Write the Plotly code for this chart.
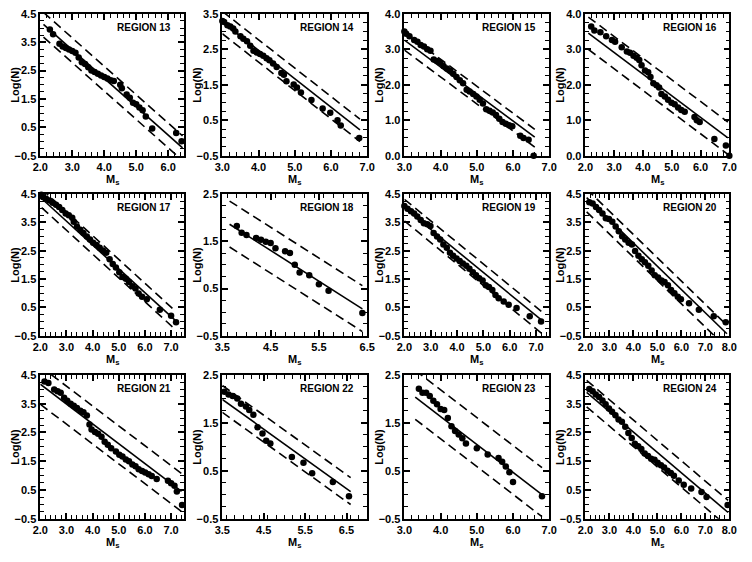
import plotly.graph_objects as go

# ---------------- data ----------------
regions = [13, 14, 15, 16, 17, 18, 19, 20, 21, 22, 23, 24]

m13 = [2.3, 2.4, 2.6, 2.7, 2.8, 2.9, 3.0, 3.1, 3.2, 3.3, 3.4, 3.5, 3.6, 3.7, 3.8, 3.9, 4.0, 4.1, 4.2, 4.3, 4.5, 4.55, 4.7, 4.8, 4.9, 5.0, 5.1, 5.2, 5.3, 5.5, 6.25, 6.42]
n13 = [3.95, 3.78, 3.45, 3.35, 3.3, 3.24, 3.19, 3.13, 2.96, 2.79, 2.73, 2.62, 2.5, 2.45, 2.39, 2.33, 2.27, 2.22, 2.16, 2.13, 2.0, 1.88, 1.66, 1.54, 1.37, 1.31, 1.2, 1.1, 0.88, 0.46, 0.3, 0.01]

m14 = [3.0, 3.05, 3.14, 3.22, 3.3, 3.36, 3.5, 3.58, 3.68, 3.77, 3.86, 3.95, 4.04, 4.13, 4.22, 4.3, 4.4, 4.5, 4.63, 4.7, 4.77, 4.97, 5.06, 5.17, 5.46, 5.77, 5.98, 6.18, 6.27, 6.78]
n14 = [3.3, 3.27, 3.18, 3.14, 3.09, 3.0, 2.87, 2.8, 2.73, 2.6, 2.46, 2.41, 2.37, 2.32, 2.25, 2.19, 2.1, 2.0, 1.83, 1.78, 1.6, 1.51, 1.42, 1.28, 1.07, 0.83, 0.71, 0.5, 0.35, 0.0]

m15 = [3.0, 3.05, 3.14, 3.27, 3.36, 3.45, 3.54, 3.63, 3.72, 3.81, 3.9, 3.99, 4.08, 4.17, 4.26, 4.35, 4.44, 4.53, 4.62, 4.72, 4.8, 4.9, 4.99, 5.08, 5.17, 5.26, 5.35, 5.44, 5.53, 5.62, 5.71, 5.8, 5.89, 5.98, 6.2, 6.29, 6.43, 6.57]
n15 = [3.5, 3.44, 3.37, 3.26, 3.21, 3.12, 3.08, 3.0, 2.96, 2.71, 2.67, 2.62, 2.53, 2.46, 2.4, 2.31, 2.22, 2.13, 2.04, 1.86, 1.81, 1.74, 1.67, 1.58, 1.47, 1.31, 1.27, 1.22, 1.15, 1.04, 0.95, 0.9, 0.86, 0.83, 0.56, 0.5, 0.45, 0.0]

m16 = [2.2, 2.31, 2.52, 2.72, 2.92, 3.03, 3.26, 3.44, 3.55, 3.67, 3.78, 3.87, 3.95, 4.07, 4.18, 4.26, 4.36, 4.47, 4.56, 4.64, 4.76, 4.87, 4.99, 5.1, 5.22, 5.33, 5.45, 5.79, 5.87, 5.97, 6.48, 6.88, 7.0]
n16 = [3.64, 3.53, 3.48, 3.37, 3.26, 3.21, 3.06, 2.94, 2.9, 2.82, 2.76, 2.7, 2.55, 2.4, 2.35, 2.22, 2.04, 1.99, 1.92, 1.74, 1.67, 1.58, 1.49, 1.45, 1.36, 1.29, 1.24, 1.09, 1.0, 0.95, 0.47, 0.29, 0.0]

m17 = [2.04, 2.1, 2.22, 2.35, 2.47, 2.6, 2.72, 2.84, 2.97, 3.09, 3.22, 3.28, 3.4, 3.53, 3.65, 3.78, 3.9, 4.02, 4.15, 4.27, 4.4, 4.52, 4.65, 4.77, 4.89, 5.02, 5.14, 5.27, 5.39, 5.52, 5.64, 5.76, 5.89, 6.07, 6.57, 7.0, 7.19]
n17 = [4.47, 4.39, 4.33, 4.27, 4.19, 4.12, 4.04, 3.93, 3.81, 3.75, 3.66, 3.52, 3.35, 3.24, 3.12, 3.0, 2.89, 2.78, 2.7, 2.6, 2.51, 2.43, 2.2, 2.03, 1.91, 1.74, 1.57, 1.51, 1.4, 1.25, 1.17, 0.99, 0.88, 0.79, 0.42, 0.21, -0.02]

m18 = [3.8, 3.9, 4.0, 4.2, 4.3, 4.4, 4.5, 4.6, 4.8, 4.9, 5.0, 5.1, 5.3, 5.5, 5.7, 6.4]
n18 = [1.82, 1.68, 1.63, 1.57, 1.53, 1.49, 1.46, 1.35, 1.29, 1.25, 1.0, 0.84, 0.78, 0.59, 0.45, -0.02]

m19 = [2.0, 2.12, 2.25, 2.37, 2.49, 2.62, 2.74, 2.87, 2.99, 3.11, 3.24, 3.36, 3.48, 3.61, 3.73, 3.85, 3.98, 4.1, 4.22, 4.35, 4.47, 4.6, 4.72, 4.84, 4.97, 5.09, 5.21, 5.34, 5.46, 5.58, 5.77, 5.96, 6.26, 6.76, 7.19]
n19 = [4.07, 3.98, 3.89, 3.81, 3.7, 3.58, 3.47, 3.43, 3.37, 3.12, 3.0, 2.89, 2.72, 2.6, 2.43, 2.32, 2.22, 2.14, 2.05, 1.97, 1.86, 1.74, 1.63, 1.53, 1.45, 1.28, 1.22, 1.11, 0.94, 0.82, 0.71, 0.59, 0.48, 0.19, 0.0]

m20 = [2.16, 2.3, 2.44, 2.57, 2.71, 2.85, 2.98, 3.12, 3.26, 3.39, 3.53, 3.66, 3.8, 3.94, 4.07, 4.21, 4.35, 4.48, 4.62, 4.76, 4.89, 5.03, 5.17, 5.3, 5.44, 5.57, 5.71, 5.85, 5.98, 6.32, 6.73, 7.35, 7.85]
n20 = [4.21, 4.16, 4.04, 3.93, 3.81, 3.64, 3.62, 3.52, 3.35, 3.18, 3.01, 2.89, 2.78, 2.72, 2.49, 2.32, 2.2, 2.09, 1.97, 1.8, 1.63, 1.55, 1.45, 1.4, 1.28, 1.11, 1.0, 0.88, 0.79, 0.65, 0.42, 0.19, -0.02]

m21 = [2.16, 2.31, 2.53, 2.66, 2.78, 2.91, 3.03, 3.16, 3.28, 3.4, 3.53, 3.65, 3.78, 3.88, 3.96, 4.09, 4.21, 4.34, 4.46, 4.58, 4.71, 4.89, 5.02, 5.14, 5.27, 5.39, 5.52, 5.64, 5.76, 5.89, 6.01, 6.14, 6.26, 6.45, 6.88, 7.0, 7.13, 7.22, 7.42]
n21 = [4.27, 4.22, 3.99, 3.93, 3.88, 3.71, 3.6, 3.5, 3.43, 3.35, 3.26, 3.2, 3.09, 2.78, 2.6, 2.52, 2.46, 2.35, 2.18, 2.07, 1.95, 1.84, 1.73, 1.67, 1.56, 1.5, 1.39, 1.33, 1.22, 1.16, 1.11, 1.05, 0.99, 0.88, 0.82, 0.74, 0.65, 0.45, -0.02]

m22 = [3.55, 3.65, 3.75, 3.86, 3.95, 4.07, 4.15, 4.25, 4.35, 4.47, 4.56, 4.66, 5.18, 5.46, 5.67, 6.17, 6.56]
n22 = [2.15, 2.09, 2.06, 2.01, 1.9, 1.84, 1.77, 1.67, 1.41, 1.28, 1.13, 1.07, 0.79, 0.67, 0.45, 0.27, -0.03]

m23 = [3.4, 3.5, 3.6, 3.7, 3.8, 3.9, 4.0, 4.1, 4.2, 4.3, 4.4, 4.5, 4.6, 4.7, 5.0, 5.3, 5.6, 5.7, 5.8, 5.9, 6.0, 6.8]
n23 = [2.21, 2.13, 2.13, 2.06, 1.96, 1.89, 1.79, 1.77, 1.6, 1.43, 1.33, 1.26, 1.18, 1.07, 0.97, 0.84, 0.77, 0.69, 0.59, 0.47, 0.27, -0.03]

m24 = [2.16, 2.3, 2.43, 2.57, 2.71, 2.84, 2.98, 3.11, 3.25, 3.38, 3.52, 3.66, 3.79, 3.93, 4.06, 4.2, 4.33, 4.47, 4.61, 4.74, 4.88, 5.01, 5.15, 5.28, 5.42, 5.56, 5.69, 5.89, 6.1, 6.41, 6.84, 7.05, 7.93]
n24 = [4.01, 3.93, 3.82, 3.73, 3.61, 3.48, 3.33, 3.22, 3.1, 2.95, 2.87, 2.7, 2.48, 2.31, 2.11, 2.02, 1.93, 1.77, 1.68, 1.59, 1.55, 1.45, 1.36, 1.28, 1.17, 1.09, 1.0, 0.83, 0.68, 0.55, 0.43, 0.26, -0.02]

mags = [m13, m14, m15, m16, m17, m18, m19, m20, m21, m22, m23, m24]
logn = [n13, n14, n15, n16, n17, n18, n19, n20, n21, n22, n23, n24]

# Gutenberg-Richter fit: log N = a - b*M, dashed bounds at +up / -dn, over [m_lo, m_hi]
fit_a  = [6.23, 5.67, 5.54, 4.74, 6.06, 4.23, 5.53, 6.05, 5.56, 4.16, 3.95, 5.34]
fit_b  = [1.00, 0.80, 0.76, 0.61, 0.84, 0.65, 0.76, 0.82, 0.69, 0.62, 0.58, 0.707]
fit_up = [0.42, 0.30, 0.22, 0.45, 0.33, 0.49, 0.30, 0.30, 0.62, 0.29, 0.56, 0.42]
fit_dn = [0.45, 0.33, 0.28, 0.46, 0.32, 0.48, 0.46, 0.50, 0.70, 0.27, 0.46, 0.50]
fit_lo = [2.10, 3.00, 3.00, 2.10, 2.05, 3.65, 2.00, 2.05, 2.00, 3.50, 3.30, 2.05]
fit_hi = [6.45, 6.80, 6.60, 6.95, 7.15, 6.40, 7.20, 7.90, 7.40, 6.60, 6.80, 7.95]

# axis ranges
x_ranges = [(2.0, 6.5), (3.0, 7.0), (3.0, 7.0), (2.0, 7.0), (2.0, 7.5), (3.5, 6.5),
            (2.0, 7.5), (2.0, 8.0), (2.0, 7.5), (3.5, 7.0), (3.0, 7.0), (2.0, 8.0)]
y_ranges = [(-0.5, 4.5), (-0.5, 3.5), (0.0, 4.0), (0.0, 4.0), (-0.5, 4.5), (-0.5, 2.5),
            (-0.5, 4.5), (-0.5, 4.5), (-0.5, 4.5), (-0.5, 2.5), (-0.5, 2.5), (-0.5, 4.5)]

# ---------------- layout geometry ----------------
W, H = 752, 562
COLS = [(33, 180), (219, 367), (405, 553), (590, 737)]
ROWS = [(8, 153), (192, 337), (377, 524)]
FONT = "Liberation Sans, Arial, sans-serif"

fig = go.Figure()
annotations = []
layout_axes = {}

for i, reg in enumerate(regions):
    row, col = divmod(i, 4)
    sfx = "" if i == 0 else str(i + 1)
    xa, ya = "x" + sfx, "y" + sfx
    x0, x1 = COLS[col]
    y0, y1 = ROWS[row]

    # fit lines
    a, b = fit_a[i], fit_b[i]
    xs = [fit_lo[i], fit_hi[i]]
    for off, dash in [(0.0, "solid"), (fit_up[i], "9px,5px"), (-fit_dn[i], "9px,5px")]:
        fig.add_trace(go.Scatter(
            x=xs, y=[a - b * m + off for m in xs], mode="lines",
            line=dict(color="black", width=1.6, dash=dash),
            xaxis=xa, yaxis=ya, showlegend=False, hoverinfo="skip"))
    # data points
    fig.add_trace(go.Scatter(
        x=mags[i], y=logn[i], mode="markers",
        marker=dict(color="black", size=6.5, line=dict(width=0)),
        xaxis=xa, yaxis=ya, showlegend=False, cliponaxis=False))

    xr, yr = x_ranges[i], y_ranges[i]
    common = dict(
        showline=True, linecolor="black", linewidth=1.6, mirror="allticks",
        ticks="inside", ticklen=6, tickwidth=1.5, tickcolor="black",
        showgrid=False, zeroline=False, tickformat=".1f",
        tickfont=dict(family=FONT, size=11, color="black", weight="bold"),
    )
    layout_axes["xaxis" + sfx] = dict(
        domain=[x0 / W, x1 / W], anchor=ya, range=list(xr),
        tick0=xr[0], dtick=1.0,
        minor=dict(dtick=0.2, ticks="inside", ticklen=4, tickwidth=1.2, tickcolor="black"),
        **common)
    layout_axes["yaxis" + sfx] = dict(
        domain=[1 - y1 / H, 1 - y0 / H], anchor=xa, range=list(yr),
        tick0=yr[0], dtick=1.0,
        minor=dict(dtick=0.25, ticks="inside", ticklen=4, tickwidth=1.2, tickcolor="black"),
        **common)

    # region label
    annotations.append(dict(
        text="REGION %d" % reg, xref="paper", yref="paper",
        x=(x1 - 11) / W, y=1 - (y0 + 14) / H, xanchor="right", yanchor="middle",
        showarrow=False, font=dict(family=FONT, size=10, color="black", weight="bold")))
    # axis titles
    annotations.append(dict(
        text="M<sub>s</sub>", xref="paper", yref="paper",
        x=((x0 + x1) / 2) / W, y=1 - (y1 + 25) / H, xanchor="center", yanchor="middle",
        showarrow=False, font=dict(family=FONT, size=11, color="black", weight="bold")))
    annotations.append(dict(
        text="Log(N)", xref="paper", yref="paper", textangle=-90,
        x=(x0 - 26) / W, y=1 - ((y0 + y1) / 2) / H, xanchor="center", yanchor="middle",
        showarrow=False, font=dict(family=FONT, size=11, color="black", weight="bold")))

fig.update_layout(
    width=W, height=H, margin=dict(l=0, r=0, t=0, b=0),
    paper_bgcolor="white", plot_bgcolor="white",
    showlegend=False, annotations=annotations, **layout_axes)

fig.write_html("out.html")
